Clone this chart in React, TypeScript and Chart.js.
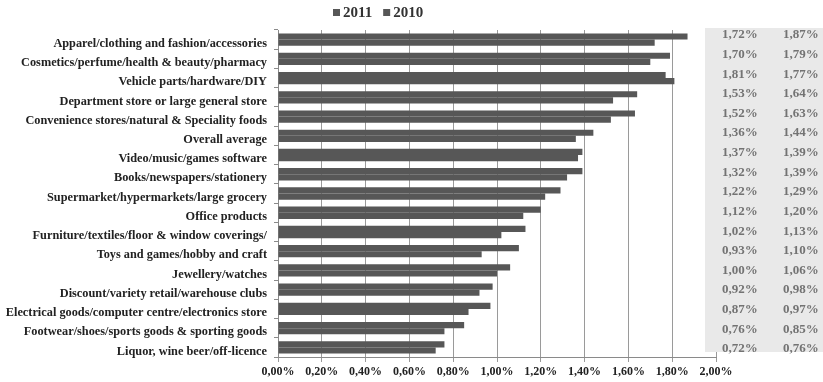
import { useEffect, useRef } from "react";
import { Chart, registerables } from "chart.js";

Chart.register(...registerables);

// Retail categories, listed top to bottom
const categories = [
  "Apparel/clothing and fashion/accessories",
  "Cosmetics/perfume/health & beauty/pharmacy",
  "Vehicle parts/hardware/DIY",
  "Department store or large general store",
  "Convenience stores/natural & Speciality foods",
  "Overall average",
  "Video/music/games software",
  "Books/newspapers/stationery",
  "Supermarket/hypermarkets/large grocery",
  "Office products",
  "Furniture/textiles/floor & window coverings/",
  "Toys and games/hobby and craft",
  "Jewellery/watches",
  "Discount/variety retail/warehouse clubs",
  "Electrical goods/computer centre/electronics store",
  "Footwear/shoes/sports goods & sporting goods",
  "Liquor, wine beer/off-licence",
];

// Shares in percent
const values2010 = [1.72, 1.70, 1.81, 1.53, 1.52, 1.36, 1.37, 1.32, 1.22, 1.12, 1.02, 0.93, 1.00, 0.92, 0.87, 0.76, 0.72];
const values2011 = [1.87, 1.79, 1.77, 1.64, 1.63, 1.44, 1.39, 1.39, 1.29, 1.20, 1.13, 1.10, 1.06, 0.98, 0.97, 0.85, 0.76];

const seriesNames = ["2011", "2010"];
const axisMax = 2.0;
const axisStep = 0.2;

const SERIF = "'Liberation Serif', 'Times New Roman', serif";
const BAR = "#575757";

const fmt = (v: number) => v.toFixed(2).replace(".", ",") + "%";

// Legend squares and labels drawn above the plot
const legendPlugin = {
  id: "serifLegend",
  afterDraw(chart: any) {
    const { ctx } = chart;
    ctx.save();
    ctx.font = `bold 15px ${SERIF}`;
    ctx.textBaseline = "middle";
    let x = 333;
    seriesNames.forEach((name) => {
      ctx.fillStyle = BAR;
      ctx.fillRect(x, 9, 7, 7);
      ctx.fillStyle = "#333";
      ctx.fillText(name, x + 10, 13);
      x += 10 + ctx.measureText(name).width + 11;
    });
    ctx.restore();
  },
};

// Grey value panel on the right with both years side by side
const panelPlugin = {
  id: "valuePanel",
  afterDraw(chart: any) {
    const { ctx } = chart;
    const top = 28;
    const bottom = 352;
    ctx.save();
    ctx.fillStyle = "#e9e9e9";
    ctx.fillRect(705, top, 140, bottom - top);
    ctx.font = `bold 13px ${SERIF}`;
    ctx.fillStyle = "#737373";
    ctx.textBaseline = "middle";
    const n = categories.length;
    const step = (349 - 35) / (n - 1);
    for (let i = 0; i < n; i++) {
      const y = 35 + i * step;
      ctx.textAlign = "left";
      ctx.fillText(fmt(values2010[i]), 722, y);
      ctx.fillText(fmt(values2011[i]), 783, y);
    }
    ctx.restore();
  },
};

export default function App() {
  const ref = useRef<HTMLCanvasElement | null>(null);

  useEffect(() => {
    document.body.style.margin = "0";
    if (!ref.current) return;
    const chart = new Chart(ref.current, {
      type: "bar",
      data: {
        labels: categories,
        datasets: [
          {
            label: seriesNames[0],
            data: values2011,
            backgroundColor: BAR,
            borderWidth: 0,
            categoryPercentage: 0.64,
            barPercentage: 1.0,
          },
          {
            label: seriesNames[1],
            data: values2010,
            backgroundColor: BAR,
            borderWidth: 0,
            categoryPercentage: 0.64,
            barPercentage: 1.0,
          },
        ],
      },
      options: {
        indexAxis: "y",
        animation: false,
        responsive: true,
        maintainAspectRatio: false,
        layout: { padding: { top: 30, right: 107, bottom: 0, left: 0 } },
        plugins: {
          legend: { display: false },
          tooltip: { enabled: false },
        },
        scales: {
          x: {
            min: 0,
            max: axisMax,
            ticks: {
              stepSize: axisStep,
              callback: (v: any) => fmt(Number(v)),
              font: { family: SERIF, size: 12, weight: "bold" },
              color: "#222",
              padding: 3,
              maxRotation: 0,
            },
            grid: { color: "#9a9a9a", lineWidth: 1, tickLength: 5 },
            border: { color: "#8a8a8a" },
            afterFit: (s: any) => {
              s.height = 25;
            },
          },
          y: {
            ticks: {
              font: { family: SERIF, size: 12.3, weight: "bold" },
              color: "#222",
              padding: 7,
              labelOffset: 4,
              autoSkip: false,
            },
            grid: {
              offset: true,
              drawOnChartArea: false,
              tickLength: 4,
              color: "#8a8a8a",
            },
            border: { color: "#8a8a8a" },
            afterFit: (s: any) => {
              s.width = 278;
            },
          },
        },
      },
      plugins: [legendPlugin, panelPlugin],
    });
    return () => chart.destroy();
  }, []);

  return (
    <div style={{ position: "relative", width: 823, height: 382, background: "#fff" }}>
      <canvas ref={ref} />
    </div>
  );
}
